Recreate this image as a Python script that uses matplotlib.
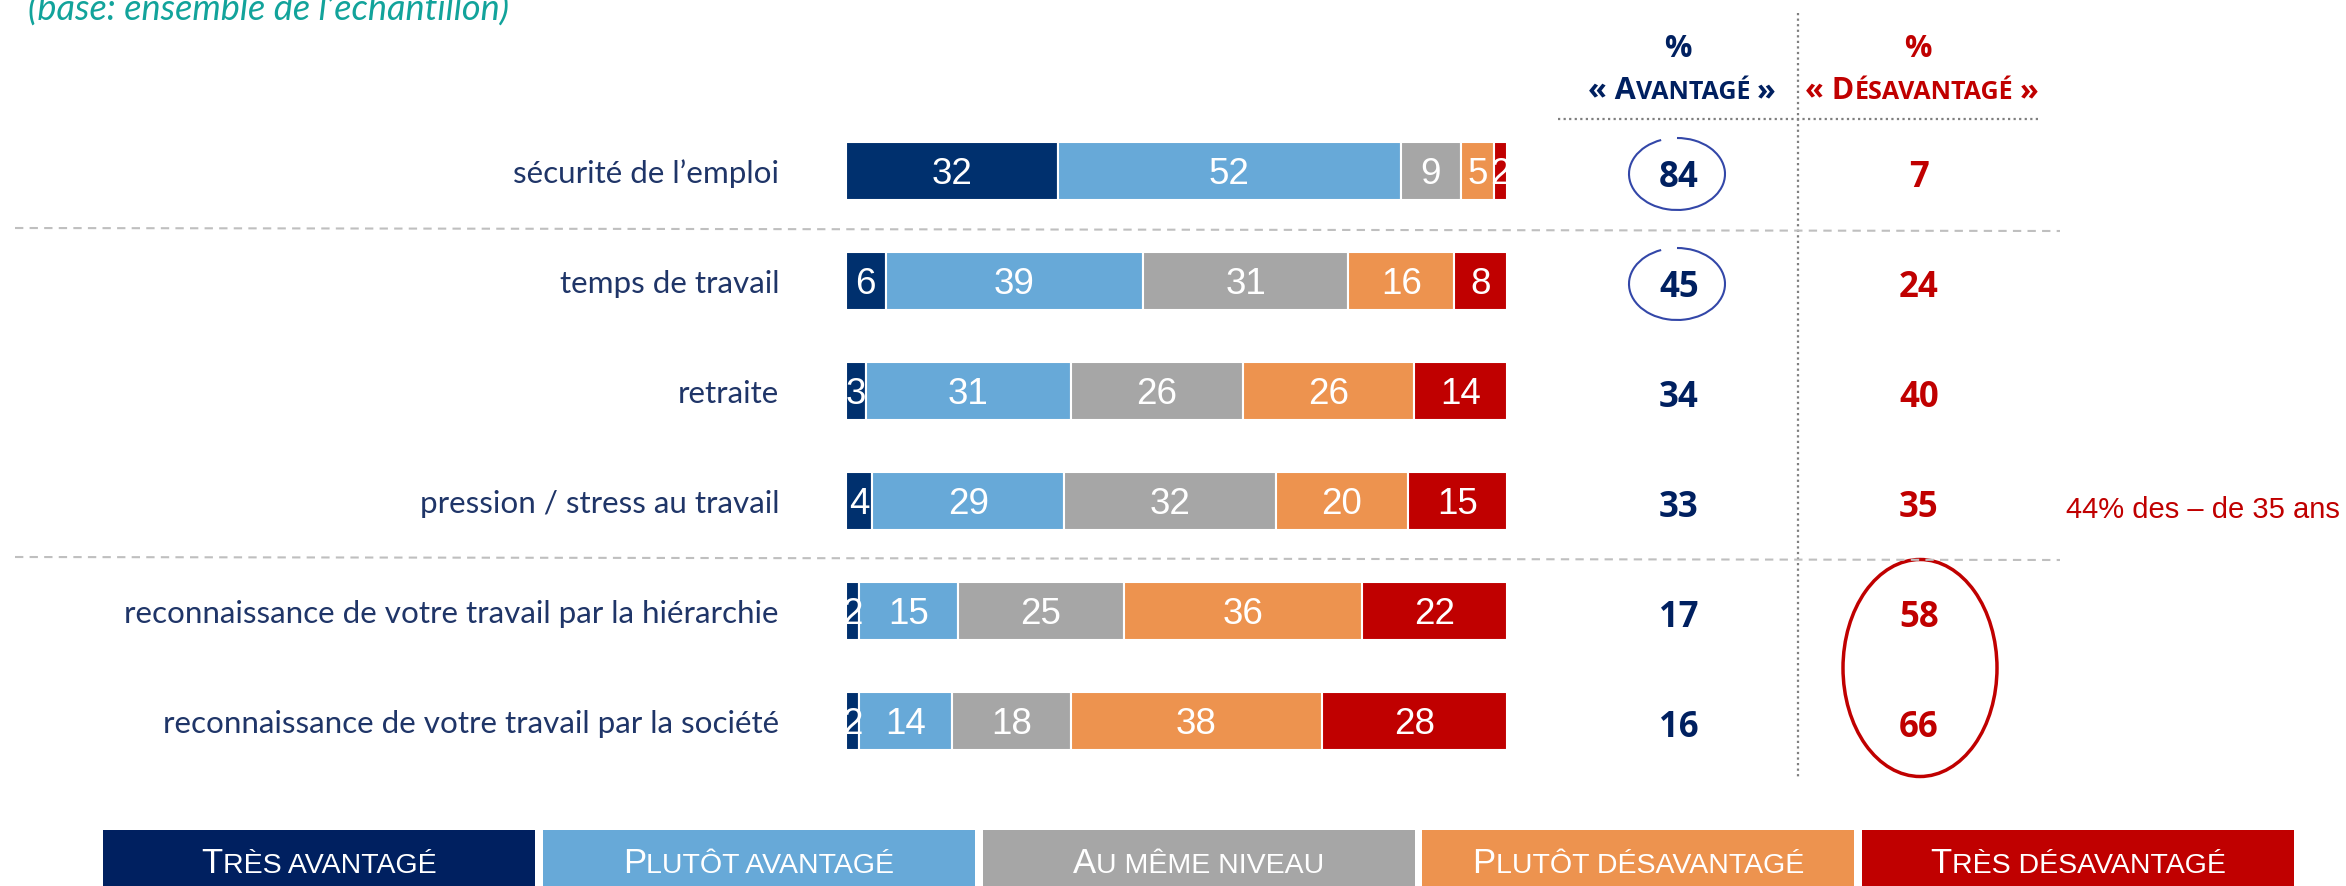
import matplotlib
matplotlib.use("Agg")
import matplotlib.pyplot as plt
from matplotlib.patches import Rectangle, Ellipse, Arc
from matplotlib.transforms import offset_copy

# canvas, in pixels (dpi 100)
W, H = 2346, 886
DPI = 100

# DATA
title = "(base: ensemble de l’echantillon)"
categories = [
    "sécurité de l’emploi",
    "temps de travail",
    "retraite",
    "pression / stress au travail",
    "reconnaissance de votre travail par la hiérarchie",
    "reconnaissance de votre travail par la société",
]
tres_avantage = [32, 6, 3, 4, 2, 2]
plutot_avantage = [52, 39, 31, 29, 15, 14]
meme_niveau = [9, 31, 26, 32, 25, 18]
plutot_desavantage = [5, 16, 26, 20, 36, 38]
tres_desavantage = [2, 8, 14, 15, 22, 28]
series_labels = ["Très avantagé", "Plutôt avantagé", "Au même niveau",
                 "Plutôt désavantagé", "Très désavantagé"]
header_left = "« Avantagé »"
header_right = "« Désavantagé »"
note_text = "44% des – de 35 ans"
note_row = 3
circled_rows = [0, 1]

# STYLE
bar_colors = ["#00306E", "#67A9D8", "#A6A6A6", "#ED934F", "#C00000"]
legend_colors = ["#002060", "#67A9D8", "#A6A6A6", "#ED934F", "#C00000"]
NAVY = "#002060"
LABEL_NAVY = "#1F3568"
RED = "#C00000"
TEAL = "#12A39B"

ROW0, ROW_STEP = 171, 110
BAR_X0, BAR_W = 846, 661
COL_AV, COL_DIS = 1679, 1919

fig = plt.figure(figsize=(W / DPI, H / DPI), dpi=DPI)
renderer = fig.canvas.get_renderer()

# overlay axes in pixel coordinates (y down)
ov = fig.add_axes([0, 0, 1, 1])
ov.set_xlim(0, W)
ov.set_ylim(H, 0)
ov.axis("off")

# bar axes
n = len(categories)
band_top = ROW0 - ROW_STEP / 2
ax = fig.add_axes([BAR_X0 / W, 1 - (band_top + n * ROW_STEP) / H, BAR_W / W, n * ROW_STEP / H])
ax.set_xlim(0, 100)
ax.set_ylim(n - 0.5, -0.5)
ax.axis("off")

series = [tres_avantage, plutot_avantage, meme_niveau, plutot_desavantage, tres_desavantage]
lefts = [0] * n
lbl_trans = offset_copy(ax.transData, fig=fig, y=-13, units="dots")
for vals, col in zip(series, bar_colors):
    ax.barh(range(n), vals, left=lefts, height=0.536, color=col, edgecolor="white", linewidth=1.5)
    for i, (l, v) in enumerate(zip(lefts, vals)):
        ax.text(l + v / 2, i, str(v), transform=lbl_trans, ha="center", va="baseline",
                fontsize=26.5, family="Liberation Sans", color="white", clip_on=True)
    lefts = [l + v for l, v in zip(lefts, vals)]


def row_px(i):
    return ROW0 + i * ROW_STEP


def small_caps(axes, cx, y, label, big, small, **kw):
    # split into runs: lowercase -> small capitals, the rest full size
    runs = []
    for ch in label:
        is_small = ch.islower() if ch != " " else (runs[-1][1] if runs else False)
        if runs and runs[-1][1] == is_small:
            runs[-1][0] += ch
        else:
            runs.append([ch, is_small])
    arts, total = [], 0
    for text, is_small in runs:
        size = small if is_small else big
        sp = 0.27 * size * DPI / 72
        lead = (len(text) - len(text.lstrip(" "))) * sp
        trail = (len(text) - len(text.rstrip(" "))) * sp
        core = text.strip(" ")
        if is_small:
            core = core.upper()
        t = axes.text(0, y, core, fontsize=size, ha="left", va="baseline", **kw)
        w = t.get_window_extent(renderer).width
        arts.append((t, lead, w, trail))
        total += lead + w + trail
    x = cx - total / 2
    for t, lead, w, trail in arts:
        x += lead
        t.set_x(x)
        x += w + trail


# title (partly cut by the top edge, as in the source)
ov.text(28, 21, title, ha="left", va="baseline", fontsize=26, family="Lato",
        style="italic", color=TEAL)

# category labels and totals
for i, cat in enumerate(categories):
    y = row_px(i)
    ov.text(779, y + 12, cat, ha="right", va="baseline", fontsize=22.6, family="Lato", color=LABEL_NAVY)
    av = tres_avantage[i] + plutot_avantage[i]
    dis = plutot_desavantage[i] + tres_desavantage[i]
    ov.text(COL_AV, y + 16, str(av), ha="center", va="baseline", fontsize=25,
            family="Open Sans", weight="bold", color=NAVY)
    ov.text(COL_DIS, y + 16, str(dis), ha="center", va="baseline", fontsize=25,
            family="Open Sans", weight="bold", color=RED)

# headers
ov.text(1678, 57, "%", ha="center", va="baseline", fontsize=22, family="Open Sans", weight="bold", color=NAVY)
ov.text(1918, 57, "%", ha="center", va="baseline", fontsize=22, family="Open Sans", weight="bold", color=RED)
small_caps(ov, 1682, 99, header_left, 22, 18, family="Open Sans", weight="bold", color=NAVY)
small_caps(ov, 1922, 99, header_right, 22, 18, family="Open Sans", weight="bold", color=RED)

# rules
ov.plot([1798, 1798], [13, 777], ls=(0, (1, 1.5)), color="#7F7F7F", lw=1.6)
ov.plot([1558, 2040], [119, 119], ls=(0, (1, 1.5)), color="#7F7F7F", lw=1.6)
ov.plot([15, 2060], [228, 231], ls=(0, (4, 3)), color="#BFBFBF", lw=1.5)
ov.plot([15, 2060], [557, 560], ls=(0, (4, 3)), color="#BFBFBF", lw=1.5)

# circles
for i in circled_rows:
    ov.add_patch(Arc((COL_AV - 2, row_px(i) + 3), 96, 72, theta1=-90, theta2=245,
                     color="#3347A8", lw=1.5))
ov.add_patch(Ellipse((1920, 668), 154, 217, fill=False, ec=RED, lw=2.5))

# side note
ov.text(2066, row_px(note_row) + 17, note_text, ha="left", va="baseline", fontsize=21,
        family="Liberation Sans", color=RED)

# legend boxes
for k, (lab, col) in enumerate(zip(series_labels, legend_colors)):
    x0 = 103 + k * 439.75
    ov.add_patch(Rectangle((x0, 830), 432, 70, color=col, lw=0))
    small_caps(ov, x0 + 216, 873, lab, 25, 20.5, family="Liberation Sans", color="white")

fig.savefig("out.png", dpi=DPI)
